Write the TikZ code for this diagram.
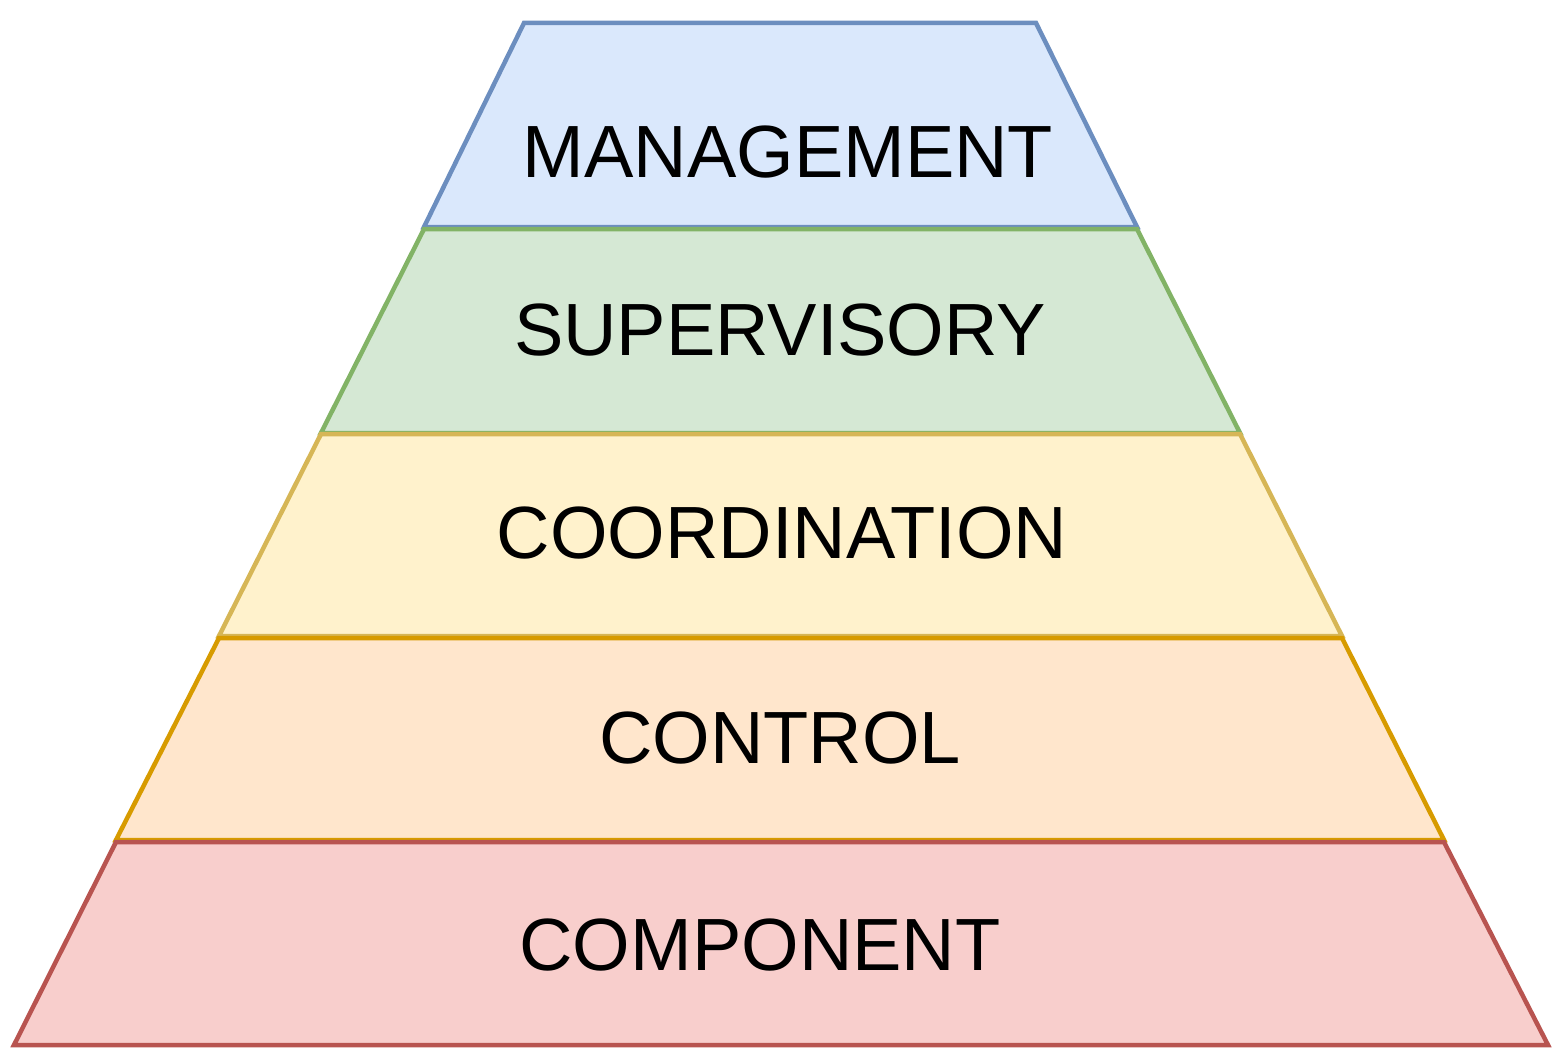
\documentclass[tikz,border=0pt]{standalone}
\usepackage{fontspec}
\setmainfont{Liberation Sans}
\definecolor{f1}{HTML}{DAE8FC}\definecolor{s1}{HTML}{6C8EBF}
\definecolor{f2}{HTML}{D5E8D4}\definecolor{s2}{HTML}{82B366}
\definecolor{f3}{HTML}{FFF2CC}\definecolor{s3}{HTML}{D6B656}
\definecolor{f4}{HTML}{FFE6CC}\definecolor{s4}{HTML}{D79B00}
\definecolor{f5}{HTML}{F8CECC}\definecolor{s5}{HTML}{B85450}
\begin{document}
\begin{tikzpicture}[x=1pt,y=-1pt,
  layer/.style={line width=4.5pt,line join=miter},
  lbl/.style={font=\fontsize{74}{82}\selectfont,anchor=center}]
\useasboundingbox (0,0) rectangle (1563,1062);
\draw[layer,fill=f1,draw=s1] (524,23) -- (1036,23) -- (1137,227) -- (424,227) -- cycle;
\draw[layer,fill=f2,draw=s2] (424,229) -- (1137,229) -- (1240,433) -- (321,433) -- cycle;
\draw[layer,fill=f3,draw=s3] (321,434) -- (1240,434) -- (1342,636) -- (219,636) -- cycle;
\draw[layer,fill=f4,draw=s4] (219,638) -- (1342,638) -- (1444,840) -- (116,840) -- cycle;
\draw[layer,fill=f5,draw=s5] (116,842) -- (1444,842) -- (1548,1045) -- (14,1045) -- cycle;
\node[lbl] (management) at (788,152) {MANAGEMENT};
\node[lbl] (supervisory) at (780,330) {SUPERVISORY};
\node[lbl] (coordination) at (782,533) {COORDINATION};
\node[lbl] (control) at (780,738) {CONTROL};
\node[lbl] (component) at (760,945) {COMPONENT};
\end{tikzpicture}
\end{document}
